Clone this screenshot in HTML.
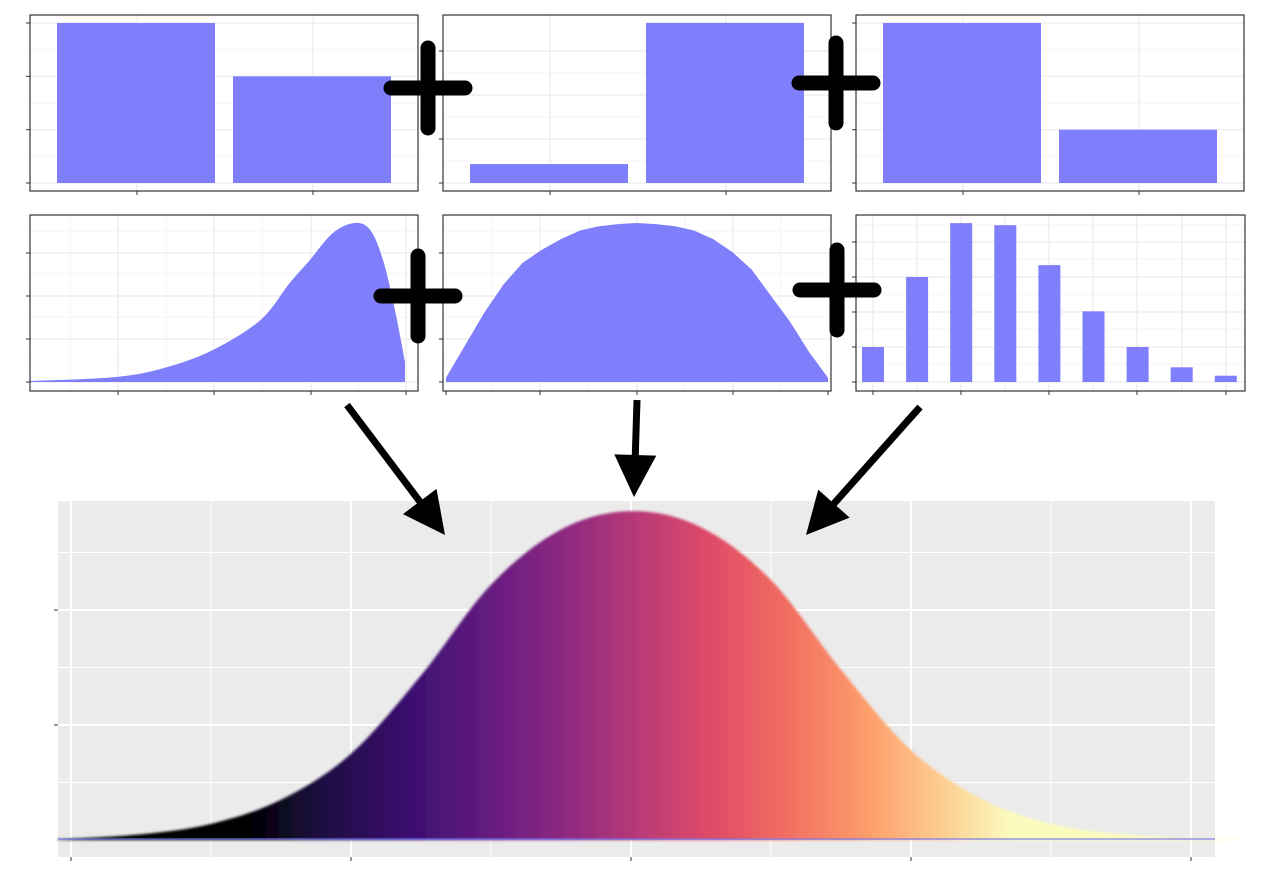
<!DOCTYPE html>
<html><head><meta charset="utf-8"><style>
html,body{margin:0;padding:0;background:#fff;width:1263px;height:870px;overflow:hidden}
svg{display:block;font-family:"Liberation Sans",sans-serif}
</style></head><body>
<svg id="c" width="1263" height="870" viewBox="0 0 1263 870"></svg>
<script>
// ---------- data ----------
const barCats = ["a","b"];
const p1Values = [0.3, 0.2];
const p2Values = [0.043, 0.364];
const p3Values = [0.3, 0.1];
const skewX = [-3.6,-2.65,-2.1,-1.6,-1.08,-0.76,-0.54,-0.29,-0.05,0.12,0.26,0.39,0.5,0.5];
const skewY = [0.004,0.021,0.062,0.133,0.257,0.411,0.506,0.618,0.66,0.631,0.506,0.299,0.083,0];
const semiX = [-1,-0.9,-0.8,-0.7,-0.6,-0.5,-0.4,-0.3,-0.2,-0.1,0,0.1,0.2,0.3,0.4,0.5,0.6,0.7,0.8,0.9,1];
const semiY = [0.02,0.17,0.32,0.45,0.55,0.61,0.66,0.7,0.72,0.73,0.735,0.73,0.72,0.7,0.66,0.6,0.52,0.4,0.28,0.14,0.02];
const binomK = [0,1,2,3,4,5,6,7,8];
const binomP = [0.05,0.15,0.227,0.224,0.167,0.101,0.05,0.021,0.009];
const normX = [-4.1,-3.5,-3,-2.5,-2,-1.5,-1,-0.5,0,0.5,1,1.5,2,2.5,3,3.5,4,4.5];
const normY = [0.0005,0.005,0.014,0.035,0.075,0.143,0.222,0.27,0.286,0.272,0.226,0.148,0.078,0.036,0.014,0.005,0.0015,0];
const normXTicks = [-4,-2,0,2,4];
const normYTicks = [0.1,0.2];

const NS="http://www.w3.org/2000/svg";
const svg=document.getElementById('c');
function mk(t,a,p){const e=document.createElementNS(NS,t);for(const k in a)e.setAttribute(k,a[k]);(p||svg).appendChild(e);return e;}
function spline(P){
  let d='';
  for(let i=0;i<P.length-1;i++){
    const p0=P[Math.max(0,i-1)],p1=P[i],p2=P[i+1],p3=P[Math.min(P.length-1,i+2)];
    const c1=[p1[0]+(p2[0]-p0[0])/6,p1[1]+(p2[1]-p0[1])/6];
    const c2=[p2[0]-(p3[0]-p1[0])/6,p2[1]-(p3[1]-p1[1])/6];
    d+=` C${c1[0].toFixed(1)},${c1[1].toFixed(1)} ${c2[0].toFixed(1)},${c2[1].toFixed(1)} ${p2[0].toFixed(1)},${p2[1].toFixed(1)}`;
  }
  return d;
}

function panel(name,L,T,W,H,vGrid,hGrid,vMinor,hMinor,xTicks,yTicks){
  const g=mk('g',{});
  
  
  mk('rect',{x:L,y:T,width:W,height:H,fill:'#fff'},g);
  vMinor.forEach(x=>mk('line',{x1:x,x2:x,y1:T,y2:T+H,stroke:'#f4f4f4','stroke-width':1},g));
  hMinor.forEach(y=>mk('line',{x1:L,x2:L+W,y1:y,y2:y,stroke:'#f4f4f4','stroke-width':1},g));
  vGrid.forEach(x=>mk('line',{x1:x,x2:x,y1:T,y2:T+H,stroke:'#ebebeb','stroke-width':1.2},g));
  hGrid.forEach(y=>mk('line',{x1:L,x2:L+W,y1:y,y2:y,stroke:'#ebebeb','stroke-width':1.2},g));
  xTicks.forEach(x=>mk('line',{x1:x,x2:x,y1:T+H,y2:T+H+4,stroke:'#333','stroke-width':1},g));
  yTicks.forEach(y=>mk('line',{x1:L-4,x2:L,y1:y,y2:y,stroke:'#333','stroke-width':1},g));
  return g;
}
function border(L,T,W,H){const r=mk('rect',{x:L,y:T,width:W,height:H,fill:'none',stroke:'#333','stroke-width':1.2});}

const BLUE='#7f7ffc';
function barPanel(name,L,vals,ymax,ytop,ticks){
  const T=15,W=388,H=176,base=183;
  const ys=v=>base-(v/ymax)*(base-ytop);
  const tp=ticks.map(ys);
  const mids=[];for(let i=0;i<tp.length-1;i++)mids.push((tp[i]+tp[i+1])/2);
  const g=panel(name,L,T,W,H,[L+107,L+283],tp,[],mids,[L+107,L+283],tp);
  barCats.forEach((c,i)=>{
    const cx=L+106+i*176;
    const r=mk('rect',{x:cx-79,y:ys(vals[i]),width:158,height:base-ys(vals[i]),fill:BLUE},g);
    
    
  });
  border(L,T,W,H);
}
barPanel('bar-panel-1',30,p1Values,0.3,23,[0,0.1,0.2,0.3]);
barPanel('bar-panel-2',443,p2Values,0.1,139,[0,0.1,0.2,0.3]);
barPanel('bar-panel-3',856,p3Values,0.3,23,[0,0.1,0.2,0.3]);

const T2=215,H2=176,B2=382;
(function(){
  const L=30,xs=x=>405+(x-0.5)*91.5, ys=y=>B2-y*(B2-223)/0.66;
  const ytk=[382,339,296,253];
  const g=panel('skew-density-panel',L,T2,388,H2,[118,214,311,406],ytk,[70,166,262,358],[360,317,274,231],[118,214,311,406],ytk);
  const P=skewX.slice(0,-1).map((x,i)=>[xs(x),ys(skewY[i])]);
  let d='M'+P[0][0]+','+B2+' L'+P[0][0]+','+P[0][1]+spline(P)+' L'+xs(skewX[skewX.length-1])+','+B2+' Z';
  const p=mk('path',{d:d,fill:BLUE},g);
  
  
  border(L,T2,388,H2);
})();
(function(){
  const L=443,xs=x=>637+x*191,ys=y=>B2-y*(B2-223)/0.735;
  const ytk=[382,339,296,253];
  const g=panel('arch-density-panel',L,T2,388,H2,[540,637,733],ytk,[492,589,685,781],[360,317,274,231],[446,540,637,733,828],ytk);
  let d='M'+xs(semiX[0])+','+B2;
  semiX.forEach((x,i)=>d+=' L'+xs(x).toFixed(1)+','+ys(semiY[i]).toFixed(1));
  d+=' L'+xs(semiX[semiX.length-1])+','+B2+' Z';
  const p=mk('path',{d:d,fill:BLUE},g);
  
  
  border(L,T2,388,H2);
})();
(function(){
  const L=856,xs=k=>873+k*44.1,ys=v=>B2-v*700;
  const ytk=[0,0.05,0.1,0.15,0.2].map(ys);
  const g=panel('binomial-bar-panel',L,T2,389,H2,[873,917,961,1005,1049,1093,1137,1182,1226],ytk,[],[364,329,294,259,225],[873,961,1049,1137,1226],ytk);
  binomK.forEach((k,i)=>{
    const r=mk('rect',{x:xs(k)-11,y:ys(binomP[i]),width:22,height:B2-ys(binomP[i]),fill:BLUE},g);
    
    
  });
  border(L,T2,389,H2);
})();

(function(){
  const L=58,T=501,W=1157,H=356,base=840;
  const xs=x=>631+x*140, ys=y=>base-y*1150;
  const g=mk('g',{});
  
  
  mk('rect',{x:L,y:T,width:W,height:H,fill:'#ebebeb'},g);
  [-3,-1,1,3].forEach(v=>mk('line',{x1:xs(v),x2:xs(v),y1:T,y2:T+H,stroke:'#fff','stroke-width':1},g));
  [0.05,0.15,0.25].forEach(v=>mk('line',{x1:L,x2:L+W,y1:ys(v),y2:ys(v),stroke:'#fff','stroke-width':1},g));
  normXTicks.forEach(v=>{mk('line',{x1:xs(v),x2:xs(v),y1:T,y2:T+H,stroke:'#fff','stroke-width':2},g);
    mk('line',{x1:xs(v),x2:xs(v),y1:T+H,y2:T+H+4,stroke:'#333','stroke-width':1},g);});
  normYTicks.forEach(v=>{mk('line',{x1:L,x2:L+W,y1:ys(v),y2:ys(v),stroke:'#fff','stroke-width':2},g);
    mk('line',{x1:L-4,x2:L,y1:ys(v),y2:ys(v),stroke:'#333','stroke-width':1},g);});
  const defs=mk('defs',{});
  const lg=mk('linearGradient',{id:'magma',gradientUnits:'userSpaceOnUse',x1:0,y1:0,x2:1263,y2:0},defs);
  [[0,'#000004'],[250,'#000004'],[320,'#1d1040'],[410,'#3b0f70'],[500,'#6b1d81'],[570,'#902a80'],[640,'#b93a77'],[710,'#df4a68'],[790,'#f26f61'],[870,'#fd9f6c'],[950,'#fdd295'],[1010,'#fbfbbe'],[1263,'#fcfdbf']]
   .forEach(s=>mk('stop',{offset:(s[0]/1263).toFixed(4),'stop-color':s[1]},lg));
  const f=mk('filter',{id:'bl',x:'-5%',y:'-5%',width:'110%',height:'110%'},defs);
  mk('feGaussianBlur',{stdDeviation:1.3},f);
  const P=normX.map((x,i)=>[xs(x),ys(normY[i])]);
  let d='M'+P[0][0]+','+base+' L'+P[0][0]+','+P[0][1]+spline(P)+' L'+P[P.length-1][0]+','+base+' Z';
  const p=mk('path',{d:d,fill:'url(#magma)',filter:'url(#bl)'},g);
  
  
  mk('line',{x1:L,x2:L+W,y1:base-1,y2:base-1,stroke:'#6a6aee','stroke-width':1.5,opacity:0.7},g);
})();

function plus(name,cx,cy,hw,hh){
  const g=mk('g',{stroke:'#000','stroke-width':15,'stroke-linecap':'round'});
  
  
  mk('line',{x1:cx,x2:cx,y1:cy-hh,y2:cy+hh},g);
  mk('line',{x1:cx-hw,x2:cx+hw,y1:cy,y2:cy},g);
}
plus('plus-sign-1',428,88,37,40);
plus('plus-sign-2',836,83,37,40);
plus('plus-sign-3',418,296,37,40);
plus('plus-sign-4',837,290,37,40);

function arrow(name,x1,y1,x2,y2){
  const g=mk('g',{});
  
  
  const dx=x2-x1,dy=y2-y1,len=Math.hypot(dx,dy),ux=dx/len,uy=dy/len;
  const hl=42,hw=21;
  const bx=x2-ux*hl,by=y2-uy*hl;
  mk('line',{x1:x1,y1:y1,x2:bx+ux*4,y2:by+uy*4,stroke:'#000','stroke-width':7},g);
  mk('polygon',{points:`${x2},${y2} ${bx-uy*hw},${by+ux*hw} ${bx+uy*hw},${by-ux*hw}`,fill:'#000'},g);
}
arrow('arrow-left',347,405,445,535);
arrow('arrow-middle',637,400,634,497);
arrow('arrow-right',920,407,806,535);
</script>
</body></html>
